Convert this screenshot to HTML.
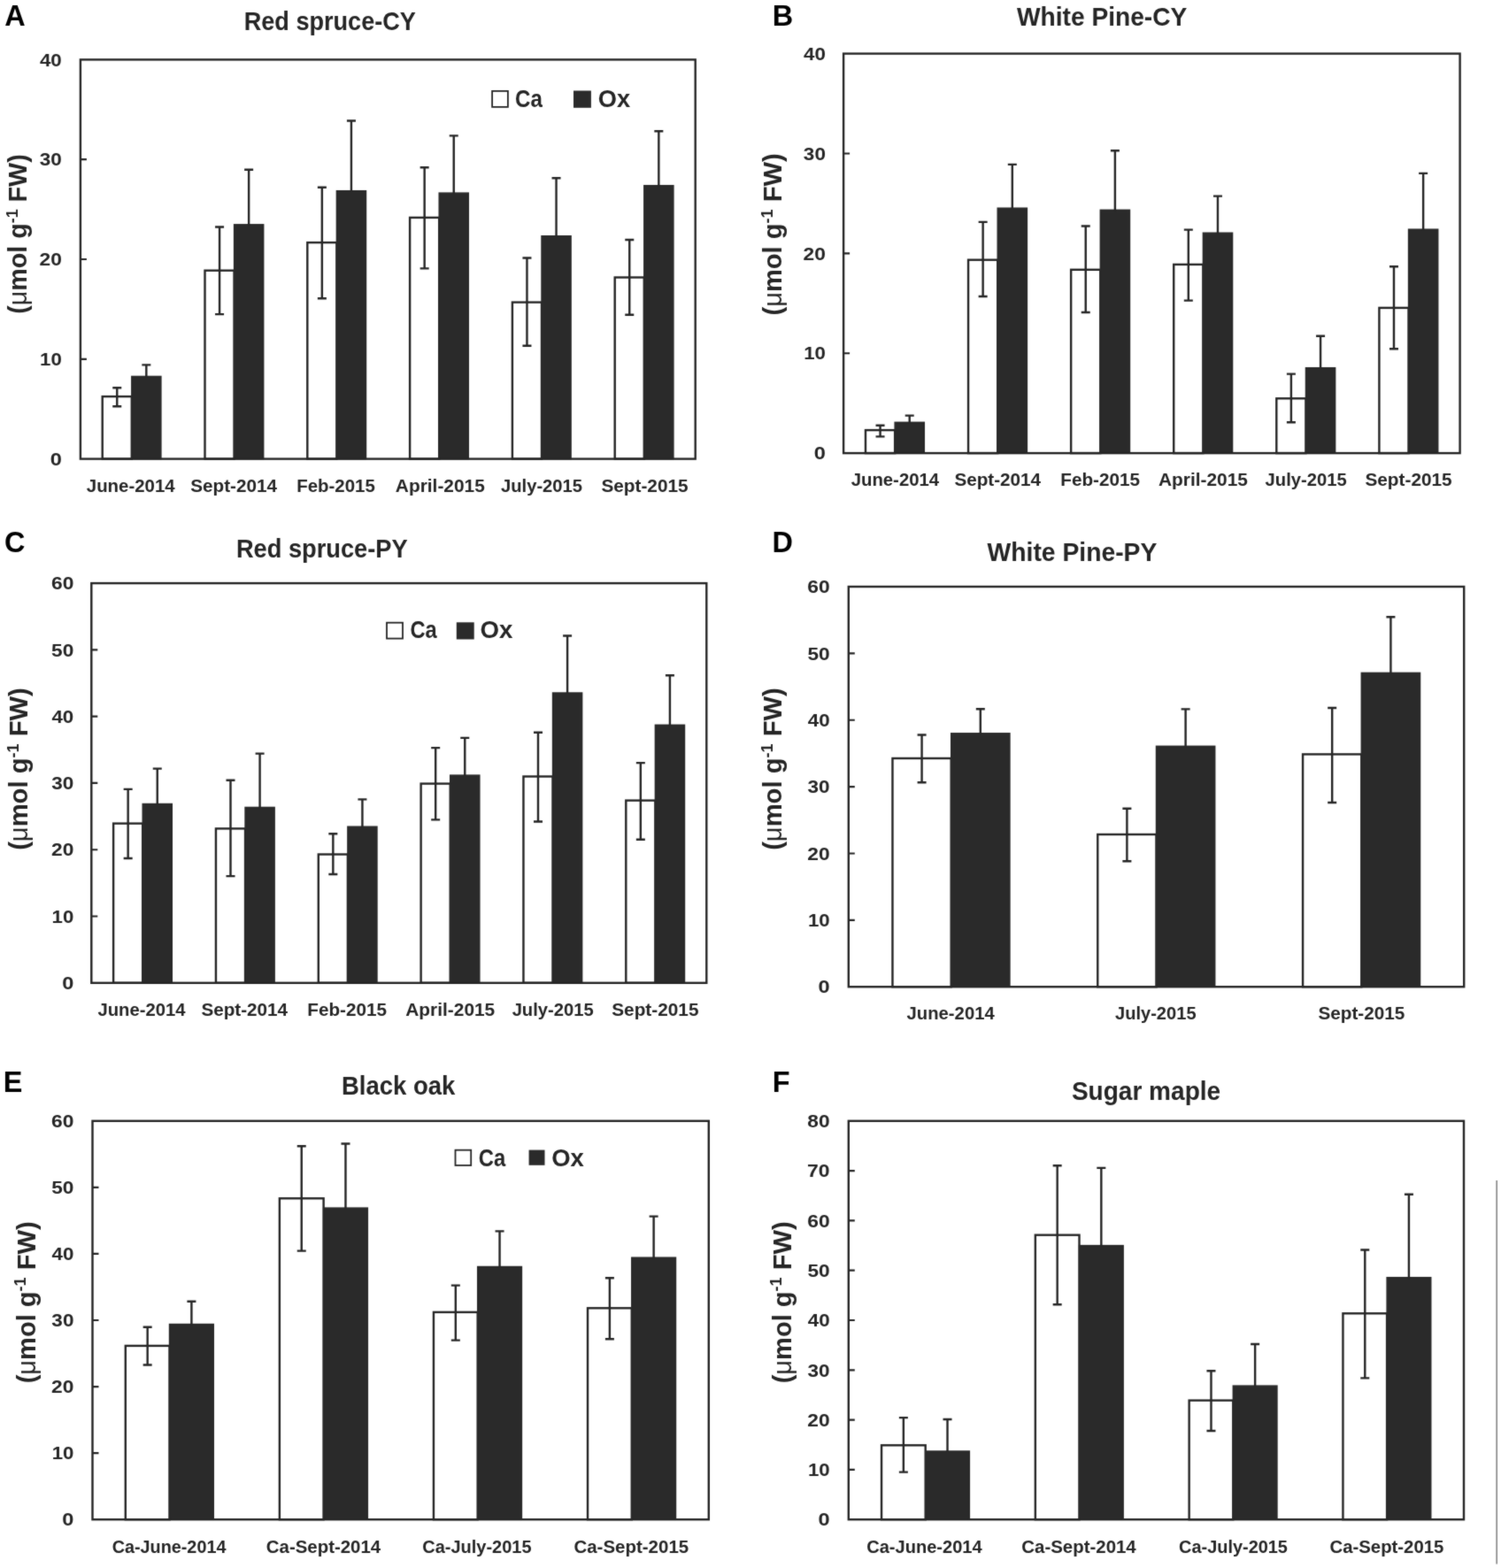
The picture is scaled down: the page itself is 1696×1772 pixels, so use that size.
<!DOCTYPE html>
<html><head><meta charset="utf-8"><title>Figure</title>
<style>html,body{margin:0;padding:0;background:#fff;width:1696px;height:1772px;overflow:hidden;}text{font-kerning:none;}</style>
</head><body>
<svg width="1696" height="1772" viewBox="0 0 1696 1772" style="display:block;font-kerning:none;font-feature-settings:'kern' 0, 'liga' 0;"><defs><filter id="soft" x="0" y="0" width="1696" height="1772" filterUnits="userSpaceOnUse" color-interpolation-filters="sRGB"><feConvolveMatrix order="3" kernelMatrix="1 2 1 2 20 2 1 2 1" edgeMode="duplicate" preserveAlpha="false"/></filter></defs><g filter="url(#soft)"><rect width="1696" height="1772" fill="#fff"/>
<rect x="115.71" y="448.10" width="33.09" height="70.50" fill="#fff" stroke="#262626" stroke-width="2.4"/>
<rect x="148.80" y="425.40" width="33.09" height="93.20" fill="#2a2a2a" stroke="#2a2a2a" stroke-width="1.44"/>
<rect x="231.51" y="305.70" width="33.09" height="212.90" fill="#fff" stroke="#262626" stroke-width="2.4"/>
<rect x="264.60" y="253.80" width="33.09" height="264.80" fill="#2a2a2a" stroke="#2a2a2a" stroke-width="1.44"/>
<rect x="347.31" y="274.10" width="33.09" height="244.50" fill="#fff" stroke="#262626" stroke-width="2.4"/>
<rect x="380.40" y="215.70" width="33.09" height="302.90" fill="#2a2a2a" stroke="#2a2a2a" stroke-width="1.44"/>
<rect x="463.11" y="245.90" width="33.09" height="272.70" fill="#fff" stroke="#262626" stroke-width="2.4"/>
<rect x="496.20" y="218.10" width="33.09" height="300.50" fill="#2a2a2a" stroke="#2a2a2a" stroke-width="1.44"/>
<rect x="578.91" y="341.60" width="33.09" height="177.00" fill="#fff" stroke="#262626" stroke-width="2.4"/>
<rect x="612.00" y="266.70" width="33.09" height="251.90" fill="#2a2a2a" stroke="#2a2a2a" stroke-width="1.44"/>
<rect x="694.71" y="313.50" width="33.09" height="205.10" fill="#fff" stroke="#262626" stroke-width="2.4"/>
<rect x="727.80" y="209.70" width="33.09" height="308.90" fill="#2a2a2a" stroke="#2a2a2a" stroke-width="1.44"/>
<path d="M132.26,438.30V459.30M127.26,438.30H137.26M127.26,459.30H137.26" stroke="#262626" stroke-width="2.4" fill="none"/>
<path d="M165.34,412.40V426.40M160.34,412.40H170.34" stroke="#262626" stroke-width="2.4" fill="none"/>
<path d="M248.06,256.50V355.10M243.06,256.50H253.06M243.06,355.10H253.06" stroke="#262626" stroke-width="2.4" fill="none"/>
<path d="M281.14,191.80V254.80M276.14,191.80H286.14" stroke="#262626" stroke-width="2.4" fill="none"/>
<path d="M363.86,211.80V337.30M358.86,211.80H368.86M358.86,337.30H368.86" stroke="#262626" stroke-width="2.4" fill="none"/>
<path d="M396.94,136.50V216.70M391.94,136.50H401.94" stroke="#262626" stroke-width="2.4" fill="none"/>
<path d="M479.66,189.30V303.40M474.66,189.30H484.66M474.66,303.40H484.66" stroke="#262626" stroke-width="2.4" fill="none"/>
<path d="M512.74,153.40V219.10M507.74,153.40H517.74" stroke="#262626" stroke-width="2.4" fill="none"/>
<path d="M595.46,291.50V390.80M590.46,291.50H600.46M590.46,390.80H600.46" stroke="#262626" stroke-width="2.4" fill="none"/>
<path d="M628.54,201.20V267.70M623.54,201.20H633.54" stroke="#262626" stroke-width="2.4" fill="none"/>
<path d="M711.26,271.00V355.80M706.26,271.00H716.26M706.26,355.80H716.26" stroke="#262626" stroke-width="2.4" fill="none"/>
<path d="M744.34,148.20V210.70M739.34,148.20H749.34" stroke="#262626" stroke-width="2.4" fill="none"/>
<rect x="90.90" y="67.40" width="694.80" height="451.20" fill="none" stroke="#262626" stroke-width="2.4"/>
<path d="M90.90,405.80H97.90M90.90,293.00H97.90M90.90,180.20H97.90" stroke="#262626" stroke-width="2.16" fill="none"/>
<text x="56.77" y="525.85" font-family='"Liberation Sans", Arial, sans-serif' font-weight="bold" font-size="20.48" fill="#252525" textLength="13.10" lengthAdjust="spacingAndGlyphs">0</text>
<text x="45.10" y="413.05" font-family='"Liberation Sans", Arial, sans-serif' font-weight="bold" font-size="20.48" fill="#252525" textLength="24.71" lengthAdjust="spacingAndGlyphs">10</text>
<text x="44.51" y="300.25" font-family='"Liberation Sans", Arial, sans-serif' font-weight="bold" font-size="20.48" fill="#252525" textLength="25.32" lengthAdjust="spacingAndGlyphs">20</text>
<text x="44.78" y="187.45" font-family='"Liberation Sans", Arial, sans-serif' font-weight="bold" font-size="20.48" fill="#252525" textLength="25.04" lengthAdjust="spacingAndGlyphs">30</text>
<text x="44.96" y="74.65" font-family='"Liberation Sans", Arial, sans-serif' font-weight="bold" font-size="20.48" fill="#252525" textLength="24.85" lengthAdjust="spacingAndGlyphs">40</text>
<text x="97.79" y="555.50" font-family='"Liberation Sans", Arial, sans-serif' font-weight="bold" font-size="20.64" fill="#252525" textLength="99.92" lengthAdjust="spacingAndGlyphs">June-2014</text>
<text x="215.30" y="555.50" font-family='"Liberation Sans", Arial, sans-serif' font-weight="bold" font-size="20.64" fill="#252525" textLength="97.71" lengthAdjust="spacingAndGlyphs">Sept-2014</text>
<text x="335.23" y="555.50" font-family='"Liberation Sans", Arial, sans-serif' font-weight="bold" font-size="20.64" fill="#252525" textLength="88.64" lengthAdjust="spacingAndGlyphs">Feb-2015</text>
<text x="446.88" y="555.50" font-family='"Liberation Sans", Arial, sans-serif' font-weight="bold" font-size="20.64" fill="#252525" textLength="100.90" lengthAdjust="spacingAndGlyphs">April-2015</text>
<text x="565.99" y="555.50" font-family='"Liberation Sans", Arial, sans-serif' font-weight="bold" font-size="20.64" fill="#252525" textLength="92.07" lengthAdjust="spacingAndGlyphs">July-2015</text>
<text x="679.40" y="555.50" font-family='"Liberation Sans", Arial, sans-serif' font-weight="bold" font-size="20.64" fill="#252525" textLength="98.18" lengthAdjust="spacingAndGlyphs">Sept-2015</text>
<text x="275.69" y="34.40" font-family='"Liberation Sans", Arial, sans-serif' font-weight="bold" font-size="29.07" fill="#252525" textLength="194.25" lengthAdjust="spacingAndGlyphs">Red spruce-CY</text>
<text x="5.39" y="28.70" font-family='"Liberation Sans", Arial, sans-serif' font-weight="bold" font-size="32.41" fill="#000" textLength="23.41" lengthAdjust="spacingAndGlyphs">A</text>
<g transform="translate(30.00,354.73) rotate(-90) scale(1.0027,1)"><text x="0.00" y="0.00" font-family='"Liberation Sans", Arial, sans-serif' font-weight="bold" font-size="28.60" fill="#252525">(</text><text x="9.52" y="0.00" font-family='"Liberation Sans", Arial, sans-serif' font-weight="normal" font-size="28.60" fill="#252525">μ</text><text x="26.00" y="0.00" font-family='"Liberation Sans", Arial, sans-serif' font-weight="bold" font-size="28.60" fill="#252525">mol g</text><text x="102.26" y="-10.30" font-family='"Liberation Sans", Arial, sans-serif' font-weight="bold" font-size="17.73" fill="#252525">-1</text><text x="125.98" y="0.00" font-family='"Liberation Sans", Arial, sans-serif' font-weight="bold" font-size="28.60" fill="#252525">FW)</text></g>
<rect x="556.10" y="102.90" width="17.80" height="18.00" fill="#fff" stroke="#262626" stroke-width="1.8"/>
<rect x="648.00" y="102.50" width="19.90" height="19.30" fill="#2a2a2a"/>
<text x="582.01" y="120.80" font-family='"Liberation Sans", Arial, sans-serif' font-weight="bold" font-size="28.49" fill="#252525" textLength="30.84" lengthAdjust="spacingAndGlyphs">Ca</text>
<text x="675.78" y="120.80" font-family='"Liberation Sans", Arial, sans-serif' font-weight="bold" font-size="28.49" fill="#252525" textLength="36.32" lengthAdjust="spacingAndGlyphs">Ox</text>
<rect x="977.98" y="486.10" width="33.17" height="26.00" fill="#fff" stroke="#262626" stroke-width="2.4"/>
<rect x="1011.14" y="477.30" width="33.17" height="34.80" fill="#2a2a2a" stroke="#2a2a2a" stroke-width="1.44"/>
<rect x="1094.06" y="293.70" width="33.17" height="218.40" fill="#fff" stroke="#262626" stroke-width="2.4"/>
<rect x="1127.22" y="235.20" width="33.17" height="276.90" fill="#2a2a2a" stroke="#2a2a2a" stroke-width="1.44"/>
<rect x="1210.14" y="304.80" width="33.17" height="207.30" fill="#fff" stroke="#262626" stroke-width="2.4"/>
<rect x="1243.31" y="237.30" width="33.17" height="274.80" fill="#2a2a2a" stroke="#2a2a2a" stroke-width="1.44"/>
<rect x="1326.22" y="298.90" width="33.17" height="213.20" fill="#fff" stroke="#262626" stroke-width="2.4"/>
<rect x="1359.39" y="263.20" width="33.17" height="248.90" fill="#2a2a2a" stroke="#2a2a2a" stroke-width="1.44"/>
<rect x="1442.31" y="450.30" width="33.17" height="61.80" fill="#fff" stroke="#262626" stroke-width="2.4"/>
<rect x="1475.47" y="415.70" width="33.17" height="96.40" fill="#2a2a2a" stroke="#2a2a2a" stroke-width="1.44"/>
<rect x="1558.39" y="347.90" width="33.17" height="164.20" fill="#fff" stroke="#262626" stroke-width="2.4"/>
<rect x="1591.56" y="259.20" width="33.17" height="252.90" fill="#2a2a2a" stroke="#2a2a2a" stroke-width="1.44"/>
<path d="M994.56,480.80V493.40M989.56,480.80H999.56M989.56,493.40H999.56" stroke="#262626" stroke-width="2.4" fill="none"/>
<path d="M1027.72,469.60V478.30M1022.72,469.60H1032.72" stroke="#262626" stroke-width="2.4" fill="none"/>
<path d="M1110.64,250.90V335.00M1105.64,250.90H1115.64M1105.64,335.00H1115.64" stroke="#262626" stroke-width="2.4" fill="none"/>
<path d="M1143.81,185.90V236.20M1138.81,185.90H1148.81" stroke="#262626" stroke-width="2.4" fill="none"/>
<path d="M1226.73,255.50V353.00M1221.73,255.50H1231.73M1221.73,353.00H1231.73" stroke="#262626" stroke-width="2.4" fill="none"/>
<path d="M1259.89,170.30V238.30M1254.89,170.30H1264.89" stroke="#262626" stroke-width="2.4" fill="none"/>
<path d="M1342.81,259.60V339.60M1337.81,259.60H1347.81M1337.81,339.60H1347.81" stroke="#262626" stroke-width="2.4" fill="none"/>
<path d="M1375.97,221.60V264.20M1370.97,221.60H1380.97" stroke="#262626" stroke-width="2.4" fill="none"/>
<path d="M1458.89,422.60V477.30M1453.89,422.60H1463.89M1453.89,477.30H1463.89" stroke="#262626" stroke-width="2.4" fill="none"/>
<path d="M1492.06,379.70V416.70M1487.06,379.70H1497.06" stroke="#262626" stroke-width="2.4" fill="none"/>
<path d="M1574.98,301.30V394.20M1569.98,301.30H1579.98M1569.98,394.20H1579.98" stroke="#262626" stroke-width="2.4" fill="none"/>
<path d="M1608.14,195.90V260.20M1603.14,195.90H1613.14" stroke="#262626" stroke-width="2.4" fill="none"/>
<rect x="953.10" y="60.60" width="696.50" height="451.50" fill="none" stroke="#262626" stroke-width="2.4"/>
<path d="M953.10,399.23H960.10M953.10,286.35H960.10M953.10,173.48H960.10" stroke="#262626" stroke-width="2.16" fill="none"/>
<text x="919.87" y="519.35" font-family='"Liberation Sans", Arial, sans-serif' font-weight="bold" font-size="20.48" fill="#252525" textLength="13.10" lengthAdjust="spacingAndGlyphs">0</text>
<text x="908.20" y="406.48" font-family='"Liberation Sans", Arial, sans-serif' font-weight="bold" font-size="20.48" fill="#252525" textLength="24.71" lengthAdjust="spacingAndGlyphs">10</text>
<text x="907.61" y="293.60" font-family='"Liberation Sans", Arial, sans-serif' font-weight="bold" font-size="20.48" fill="#252525" textLength="25.32" lengthAdjust="spacingAndGlyphs">20</text>
<text x="907.88" y="180.73" font-family='"Liberation Sans", Arial, sans-serif' font-weight="bold" font-size="20.48" fill="#252525" textLength="25.04" lengthAdjust="spacingAndGlyphs">30</text>
<text x="908.06" y="67.85" font-family='"Liberation Sans", Arial, sans-serif' font-weight="bold" font-size="20.48" fill="#252525" textLength="24.85" lengthAdjust="spacingAndGlyphs">40</text>
<text x="961.69" y="548.80" font-family='"Liberation Sans", Arial, sans-serif' font-weight="bold" font-size="20.64" fill="#252525" textLength="99.42" lengthAdjust="spacingAndGlyphs">June-2014</text>
<text x="1078.40" y="548.80" font-family='"Liberation Sans", Arial, sans-serif' font-weight="bold" font-size="20.64" fill="#252525" textLength="97.71" lengthAdjust="spacingAndGlyphs">Sept-2014</text>
<text x="1198.32" y="548.80" font-family='"Liberation Sans", Arial, sans-serif' font-weight="bold" font-size="20.64" fill="#252525" textLength="89.66" lengthAdjust="spacingAndGlyphs">Feb-2015</text>
<text x="1308.97" y="548.80" font-family='"Liberation Sans", Arial, sans-serif' font-weight="bold" font-size="20.64" fill="#252525" textLength="100.90" lengthAdjust="spacingAndGlyphs">April-2015</text>
<text x="1429.57" y="548.80" font-family='"Liberation Sans", Arial, sans-serif' font-weight="bold" font-size="20.64" fill="#252525" textLength="92.07" lengthAdjust="spacingAndGlyphs">July-2015</text>
<text x="1542.46" y="548.80" font-family='"Liberation Sans", Arial, sans-serif' font-weight="bold" font-size="20.64" fill="#252525" textLength="98.18" lengthAdjust="spacingAndGlyphs">Sept-2015</text>
<text x="1148.97" y="28.70" font-family='"Liberation Sans", Arial, sans-serif' font-weight="bold" font-size="29.07" fill="#252525" textLength="192.38" lengthAdjust="spacingAndGlyphs">White Pine-CY</text>
<text x="872.73" y="28.70" font-family='"Liberation Sans", Arial, sans-serif' font-weight="bold" font-size="32.41" fill="#000" textLength="23.41" lengthAdjust="spacingAndGlyphs">B</text>
<g transform="translate(883.00,356.45) rotate(-90) scale(1.0174,1)"><text x="0.00" y="0.00" font-family='"Liberation Sans", Arial, sans-serif' font-weight="bold" font-size="28.60" fill="#252525">(</text><text x="9.52" y="0.00" font-family='"Liberation Sans", Arial, sans-serif' font-weight="normal" font-size="28.60" fill="#252525">μ</text><text x="26.00" y="0.00" font-family='"Liberation Sans", Arial, sans-serif' font-weight="bold" font-size="28.60" fill="#252525">mol g</text><text x="102.26" y="-10.30" font-family='"Liberation Sans", Arial, sans-serif' font-weight="bold" font-size="17.73" fill="#252525">-1</text><text x="125.98" y="0.00" font-family='"Liberation Sans", Arial, sans-serif' font-weight="bold" font-size="28.60" fill="#252525">FW)</text></g>
<rect x="128.12" y="930.60" width="33.10" height="180.20" fill="#fff" stroke="#262626" stroke-width="2.4"/>
<rect x="161.22" y="908.50" width="33.10" height="202.30" fill="#2a2a2a" stroke="#2a2a2a" stroke-width="1.44"/>
<rect x="243.95" y="936.40" width="33.10" height="174.40" fill="#fff" stroke="#262626" stroke-width="2.4"/>
<rect x="277.05" y="912.40" width="33.10" height="198.40" fill="#2a2a2a" stroke="#2a2a2a" stroke-width="1.44"/>
<rect x="359.79" y="965.50" width="33.10" height="145.30" fill="#fff" stroke="#262626" stroke-width="2.4"/>
<rect x="392.88" y="934.20" width="33.10" height="176.60" fill="#2a2a2a" stroke="#2a2a2a" stroke-width="1.44"/>
<rect x="475.62" y="885.60" width="33.10" height="225.20" fill="#fff" stroke="#262626" stroke-width="2.4"/>
<rect x="508.72" y="876.10" width="33.10" height="234.70" fill="#2a2a2a" stroke="#2a2a2a" stroke-width="1.44"/>
<rect x="591.45" y="877.50" width="33.10" height="233.30" fill="#fff" stroke="#262626" stroke-width="2.4"/>
<rect x="624.55" y="783.00" width="33.10" height="327.80" fill="#2a2a2a" stroke="#2a2a2a" stroke-width="1.44"/>
<rect x="707.29" y="904.60" width="33.10" height="206.20" fill="#fff" stroke="#262626" stroke-width="2.4"/>
<rect x="740.38" y="819.30" width="33.10" height="291.50" fill="#2a2a2a" stroke="#2a2a2a" stroke-width="1.44"/>
<path d="M144.67,891.90V970.00M139.67,891.90H149.67M139.67,970.00H149.67" stroke="#262626" stroke-width="2.4" fill="none"/>
<path d="M177.76,868.60V909.50M172.76,868.60H182.76" stroke="#262626" stroke-width="2.4" fill="none"/>
<path d="M260.50,881.70V990.10M255.50,881.70H265.50M255.50,990.10H265.50" stroke="#262626" stroke-width="2.4" fill="none"/>
<path d="M293.60,851.60V913.40M288.60,851.60H298.60" stroke="#262626" stroke-width="2.4" fill="none"/>
<path d="M376.34,942.20V988.00M371.34,942.20H381.34M371.34,988.00H381.34" stroke="#262626" stroke-width="2.4" fill="none"/>
<path d="M409.43,903.40V935.20M404.43,903.40H414.43" stroke="#262626" stroke-width="2.4" fill="none"/>
<path d="M492.17,845.10V926.40M487.17,845.10H497.17M487.17,926.40H497.17" stroke="#262626" stroke-width="2.4" fill="none"/>
<path d="M525.26,833.90V877.10M520.26,833.90H530.26" stroke="#262626" stroke-width="2.4" fill="none"/>
<path d="M608.00,827.70V928.50M603.00,827.70H613.00M603.00,928.50H613.00" stroke="#262626" stroke-width="2.4" fill="none"/>
<path d="M641.10,718.50V784.00M636.10,718.50H646.10" stroke="#262626" stroke-width="2.4" fill="none"/>
<path d="M723.84,862.10V948.80M718.84,862.10H728.84M718.84,948.80H728.84" stroke="#262626" stroke-width="2.4" fill="none"/>
<path d="M756.93,763.20V820.30M751.93,763.20H761.93" stroke="#262626" stroke-width="2.4" fill="none"/>
<rect x="103.30" y="659.10" width="695.00" height="451.70" fill="none" stroke="#262626" stroke-width="2.4"/>
<path d="M103.30,1035.52H110.30M103.30,960.23H110.30M103.30,884.95H110.30M103.30,809.67H110.30M103.30,734.38H110.30" stroke="#262626" stroke-width="2.16" fill="none"/>
<text x="70.27" y="1118.05" font-family='"Liberation Sans", Arial, sans-serif' font-weight="bold" font-size="20.48" fill="#252525" textLength="13.10" lengthAdjust="spacingAndGlyphs">0</text>
<text x="58.60" y="1042.77" font-family='"Liberation Sans", Arial, sans-serif' font-weight="bold" font-size="20.48" fill="#252525" textLength="24.71" lengthAdjust="spacingAndGlyphs">10</text>
<text x="58.01" y="967.48" font-family='"Liberation Sans", Arial, sans-serif' font-weight="bold" font-size="20.48" fill="#252525" textLength="25.32" lengthAdjust="spacingAndGlyphs">20</text>
<text x="58.28" y="892.20" font-family='"Liberation Sans", Arial, sans-serif' font-weight="bold" font-size="20.48" fill="#252525" textLength="25.04" lengthAdjust="spacingAndGlyphs">30</text>
<text x="58.46" y="816.92" font-family='"Liberation Sans", Arial, sans-serif' font-weight="bold" font-size="20.48" fill="#252525" textLength="24.85" lengthAdjust="spacingAndGlyphs">40</text>
<text x="58.10" y="741.63" font-family='"Liberation Sans", Arial, sans-serif' font-weight="bold" font-size="20.48" fill="#252525" textLength="25.23" lengthAdjust="spacingAndGlyphs">50</text>
<text x="57.96" y="666.35" font-family='"Liberation Sans", Arial, sans-serif' font-weight="bold" font-size="20.48" fill="#252525" textLength="25.37" lengthAdjust="spacingAndGlyphs">60</text>
<text x="110.39" y="1147.90" font-family='"Liberation Sans", Arial, sans-serif' font-weight="bold" font-size="20.64" fill="#252525" textLength="99.12" lengthAdjust="spacingAndGlyphs">June-2014</text>
<text x="227.40" y="1147.90" font-family='"Liberation Sans", Arial, sans-serif' font-weight="bold" font-size="20.64" fill="#252525" textLength="97.71" lengthAdjust="spacingAndGlyphs">Sept-2014</text>
<text x="347.32" y="1147.90" font-family='"Liberation Sans", Arial, sans-serif' font-weight="bold" font-size="20.64" fill="#252525" textLength="89.66" lengthAdjust="spacingAndGlyphs">Feb-2015</text>
<text x="458.30" y="1147.90" font-family='"Liberation Sans", Arial, sans-serif' font-weight="bold" font-size="20.64" fill="#252525" textLength="100.90" lengthAdjust="spacingAndGlyphs">April-2015</text>
<text x="578.64" y="1147.90" font-family='"Liberation Sans", Arial, sans-serif' font-weight="bold" font-size="20.64" fill="#252525" textLength="92.07" lengthAdjust="spacingAndGlyphs">July-2015</text>
<text x="691.28" y="1147.90" font-family='"Liberation Sans", Arial, sans-serif' font-weight="bold" font-size="20.64" fill="#252525" textLength="98.18" lengthAdjust="spacingAndGlyphs">Sept-2015</text>
<text x="266.88" y="629.90" font-family='"Liberation Sans", Arial, sans-serif' font-weight="bold" font-size="29.07" fill="#252525" textLength="193.76" lengthAdjust="spacingAndGlyphs">Red spruce-PY</text>
<text x="5.07" y="623.50" font-family='"Liberation Sans", Arial, sans-serif' font-weight="bold" font-size="32.41" fill="#000" textLength="23.41" lengthAdjust="spacingAndGlyphs">C</text>
<g transform="translate(31.00,960.85) rotate(-90) scale(1.0208,1)"><text x="0.00" y="0.00" font-family='"Liberation Sans", Arial, sans-serif' font-weight="bold" font-size="28.60" fill="#252525">(</text><text x="9.52" y="0.00" font-family='"Liberation Sans", Arial, sans-serif' font-weight="normal" font-size="28.60" fill="#252525">μ</text><text x="26.00" y="0.00" font-family='"Liberation Sans", Arial, sans-serif' font-weight="bold" font-size="28.60" fill="#252525">mol g</text><text x="102.26" y="-10.30" font-family='"Liberation Sans", Arial, sans-serif' font-weight="bold" font-size="17.73" fill="#252525">-1</text><text x="125.98" y="0.00" font-family='"Liberation Sans", Arial, sans-serif' font-weight="bold" font-size="28.60" fill="#252525">FW)</text></g>
<rect x="437.00" y="703.70" width="18.00" height="17.90" fill="#fff" stroke="#262626" stroke-width="1.8"/>
<rect x="515.80" y="703.30" width="19.90" height="19.20" fill="#2a2a2a"/>
<text x="463.43" y="721.40" font-family='"Liberation Sans", Arial, sans-serif' font-weight="bold" font-size="28.49" fill="#252525" textLength="30.22" lengthAdjust="spacingAndGlyphs">Ca</text>
<text x="542.46" y="721.40" font-family='"Liberation Sans", Arial, sans-serif' font-weight="bold" font-size="28.49" fill="#252525" textLength="36.94" lengthAdjust="spacingAndGlyphs">Ox</text>
<rect x="1008.47" y="857.00" width="66.23" height="258.20" fill="#fff" stroke="#262626" stroke-width="2.4"/>
<rect x="1074.70" y="828.75" width="66.23" height="286.45" fill="#2a2a2a" stroke="#2a2a2a" stroke-width="1.44"/>
<rect x="1240.27" y="943.00" width="66.23" height="172.20" fill="#fff" stroke="#262626" stroke-width="2.4"/>
<rect x="1306.50" y="843.30" width="66.23" height="271.90" fill="#2a2a2a" stroke="#2a2a2a" stroke-width="1.44"/>
<rect x="1472.07" y="852.40" width="66.23" height="262.80" fill="#fff" stroke="#262626" stroke-width="2.4"/>
<rect x="1538.30" y="760.40" width="66.23" height="354.80" fill="#2a2a2a" stroke="#2a2a2a" stroke-width="1.44"/>
<path d="M1041.59,830.50V884.25M1036.59,830.50H1046.59M1036.59,884.25H1046.59" stroke="#262626" stroke-width="2.4" fill="none"/>
<path d="M1107.81,801.25V829.75M1102.81,801.25H1112.81" stroke="#262626" stroke-width="2.4" fill="none"/>
<path d="M1273.39,913.80V973.20M1268.39,913.80H1278.39M1268.39,973.20H1278.39" stroke="#262626" stroke-width="2.4" fill="none"/>
<path d="M1339.61,801.40V844.30M1334.61,801.40H1344.61" stroke="#262626" stroke-width="2.4" fill="none"/>
<path d="M1505.19,800.00V907.00M1500.19,800.00H1510.19M1500.19,907.00H1510.19" stroke="#262626" stroke-width="2.4" fill="none"/>
<path d="M1571.41,697.30V761.40M1566.41,697.30H1576.41" stroke="#262626" stroke-width="2.4" fill="none"/>
<rect x="958.80" y="663.00" width="695.40" height="452.20" fill="none" stroke="#262626" stroke-width="2.4"/>
<path d="M958.80,1039.83H965.80M958.80,964.47H965.80M958.80,889.10H965.80M958.80,813.73H965.80M958.80,738.37H965.80" stroke="#262626" stroke-width="2.16" fill="none"/>
<text x="924.57" y="1122.45" font-family='"Liberation Sans", Arial, sans-serif' font-weight="bold" font-size="20.48" fill="#252525" textLength="13.10" lengthAdjust="spacingAndGlyphs">0</text>
<text x="912.90" y="1047.08" font-family='"Liberation Sans", Arial, sans-serif' font-weight="bold" font-size="20.48" fill="#252525" textLength="24.71" lengthAdjust="spacingAndGlyphs">10</text>
<text x="912.31" y="971.72" font-family='"Liberation Sans", Arial, sans-serif' font-weight="bold" font-size="20.48" fill="#252525" textLength="25.32" lengthAdjust="spacingAndGlyphs">20</text>
<text x="912.58" y="896.35" font-family='"Liberation Sans", Arial, sans-serif' font-weight="bold" font-size="20.48" fill="#252525" textLength="25.04" lengthAdjust="spacingAndGlyphs">30</text>
<text x="912.76" y="820.98" font-family='"Liberation Sans", Arial, sans-serif' font-weight="bold" font-size="20.48" fill="#252525" textLength="24.85" lengthAdjust="spacingAndGlyphs">40</text>
<text x="912.40" y="745.62" font-family='"Liberation Sans", Arial, sans-serif' font-weight="bold" font-size="20.48" fill="#252525" textLength="25.23" lengthAdjust="spacingAndGlyphs">50</text>
<text x="912.26" y="670.25" font-family='"Liberation Sans", Arial, sans-serif' font-weight="bold" font-size="20.48" fill="#252525" textLength="25.37" lengthAdjust="spacingAndGlyphs">60</text>
<text x="1024.59" y="1152.20" font-family='"Liberation Sans", Arial, sans-serif' font-weight="bold" font-size="20.64" fill="#252525" textLength="99.12" lengthAdjust="spacingAndGlyphs">June-2014</text>
<text x="1260.00" y="1152.20" font-family='"Liberation Sans", Arial, sans-serif' font-weight="bold" font-size="20.64" fill="#252525" textLength="91.56" lengthAdjust="spacingAndGlyphs">July-2015</text>
<text x="1489.40" y="1152.20" font-family='"Liberation Sans", Arial, sans-serif' font-weight="bold" font-size="20.64" fill="#252525" textLength="97.97" lengthAdjust="spacingAndGlyphs">Sept-2015</text>
<text x="1115.57" y="634.00" font-family='"Liberation Sans", Arial, sans-serif' font-weight="bold" font-size="29.07" fill="#252525" textLength="191.78" lengthAdjust="spacingAndGlyphs">White Pine-PY</text>
<text x="872.53" y="623.50" font-family='"Liberation Sans", Arial, sans-serif' font-weight="bold" font-size="32.41" fill="#000" textLength="23.41" lengthAdjust="spacingAndGlyphs">D</text>
<g transform="translate(883.00,960.85) rotate(-90) scale(1.0208,1)"><text x="0.00" y="0.00" font-family='"Liberation Sans", Arial, sans-serif' font-weight="bold" font-size="28.60" fill="#252525">(</text><text x="9.52" y="0.00" font-family='"Liberation Sans", Arial, sans-serif' font-weight="normal" font-size="28.60" fill="#252525">μ</text><text x="26.00" y="0.00" font-family='"Liberation Sans", Arial, sans-serif' font-weight="bold" font-size="28.60" fill="#252525">mol g</text><text x="102.26" y="-10.30" font-family='"Liberation Sans", Arial, sans-serif' font-weight="bold" font-size="17.73" fill="#252525">-1</text><text x="125.98" y="0.00" font-family='"Liberation Sans", Arial, sans-serif' font-weight="bold" font-size="28.60" fill="#252525">FW)</text></g>
<rect x="141.80" y="1520.90" width="49.74" height="196.30" fill="#fff" stroke="#262626" stroke-width="2.4"/>
<rect x="191.54" y="1496.50" width="49.74" height="220.70" fill="#2a2a2a" stroke="#2a2a2a" stroke-width="1.44"/>
<rect x="315.88" y="1354.30" width="49.74" height="362.90" fill="#fff" stroke="#262626" stroke-width="2.4"/>
<rect x="365.61" y="1365.10" width="49.74" height="352.10" fill="#2a2a2a" stroke="#2a2a2a" stroke-width="1.44"/>
<rect x="489.95" y="1482.90" width="49.74" height="234.30" fill="#fff" stroke="#262626" stroke-width="2.4"/>
<rect x="539.69" y="1431.50" width="49.74" height="285.70" fill="#2a2a2a" stroke="#2a2a2a" stroke-width="1.44"/>
<rect x="664.03" y="1478.30" width="49.74" height="238.90" fill="#fff" stroke="#262626" stroke-width="2.4"/>
<rect x="713.76" y="1421.20" width="49.74" height="296.00" fill="#2a2a2a" stroke="#2a2a2a" stroke-width="1.44"/>
<path d="M166.67,1499.70V1542.50M161.67,1499.70H171.67M161.67,1542.50H171.67" stroke="#262626" stroke-width="2.4" fill="none"/>
<path d="M216.41,1470.70V1497.50M211.41,1470.70H221.41" stroke="#262626" stroke-width="2.4" fill="none"/>
<path d="M340.74,1295.20V1413.60M335.74,1295.20H345.74M335.74,1413.60H345.74" stroke="#262626" stroke-width="2.4" fill="none"/>
<path d="M390.48,1292.50V1366.10M385.48,1292.50H395.48" stroke="#262626" stroke-width="2.4" fill="none"/>
<path d="M514.82,1452.60V1514.60M509.82,1452.60H519.82M509.82,1514.60H519.82" stroke="#262626" stroke-width="2.4" fill="none"/>
<path d="M564.56,1391.40V1432.50M559.56,1391.40H569.56" stroke="#262626" stroke-width="2.4" fill="none"/>
<path d="M688.89,1444.20V1513.30M683.89,1444.20H693.89M683.89,1513.30H693.89" stroke="#262626" stroke-width="2.4" fill="none"/>
<path d="M738.63,1374.60V1422.20M733.63,1374.60H743.63" stroke="#262626" stroke-width="2.4" fill="none"/>
<rect x="104.50" y="1266.80" width="696.30" height="450.40" fill="none" stroke="#262626" stroke-width="2.4"/>
<path d="M104.50,1642.13H111.50M104.50,1567.07H111.50M104.50,1492.00H111.50M104.50,1416.93H111.50M104.50,1341.87H111.50" stroke="#262626" stroke-width="2.16" fill="none"/>
<text x="70.37" y="1724.45" font-family='"Liberation Sans", Arial, sans-serif' font-weight="bold" font-size="20.48" fill="#252525" textLength="13.10" lengthAdjust="spacingAndGlyphs">0</text>
<text x="58.70" y="1649.38" font-family='"Liberation Sans", Arial, sans-serif' font-weight="bold" font-size="20.48" fill="#252525" textLength="24.71" lengthAdjust="spacingAndGlyphs">10</text>
<text x="58.11" y="1574.32" font-family='"Liberation Sans", Arial, sans-serif' font-weight="bold" font-size="20.48" fill="#252525" textLength="25.32" lengthAdjust="spacingAndGlyphs">20</text>
<text x="58.38" y="1499.25" font-family='"Liberation Sans", Arial, sans-serif' font-weight="bold" font-size="20.48" fill="#252525" textLength="25.04" lengthAdjust="spacingAndGlyphs">30</text>
<text x="58.56" y="1424.18" font-family='"Liberation Sans", Arial, sans-serif' font-weight="bold" font-size="20.48" fill="#252525" textLength="24.85" lengthAdjust="spacingAndGlyphs">40</text>
<text x="58.20" y="1349.12" font-family='"Liberation Sans", Arial, sans-serif' font-weight="bold" font-size="20.48" fill="#252525" textLength="25.23" lengthAdjust="spacingAndGlyphs">50</text>
<text x="58.06" y="1274.05" font-family='"Liberation Sans", Arial, sans-serif' font-weight="bold" font-size="20.48" fill="#252525" textLength="25.37" lengthAdjust="spacingAndGlyphs">60</text>
<text x="126.69" y="1755.20" font-family='"Liberation Sans", Arial, sans-serif' font-weight="bold" font-size="20.64" fill="#252525" textLength="128.72" lengthAdjust="spacingAndGlyphs">Ca-June-2014</text>
<text x="300.86" y="1755.20" font-family='"Liberation Sans", Arial, sans-serif' font-weight="bold" font-size="20.64" fill="#252525" textLength="129.25" lengthAdjust="spacingAndGlyphs">Ca-Sept-2014</text>
<text x="477.28" y="1755.20" font-family='"Liberation Sans", Arial, sans-serif' font-weight="bold" font-size="20.64" fill="#252525" textLength="123.28" lengthAdjust="spacingAndGlyphs">Ca-July-2015</text>
<text x="648.46" y="1755.20" font-family='"Liberation Sans", Arial, sans-serif' font-weight="bold" font-size="20.64" fill="#252525" textLength="129.71" lengthAdjust="spacingAndGlyphs">Ca-Sept-2015</text>
<text x="385.96" y="1236.60" font-family='"Liberation Sans", Arial, sans-serif' font-weight="bold" font-size="29.07" fill="#252525" textLength="128.31" lengthAdjust="spacingAndGlyphs">Black oak</text>
<text x="3.63" y="1233.60" font-family='"Liberation Sans", Arial, sans-serif' font-weight="bold" font-size="32.41" fill="#000" textLength="21.62" lengthAdjust="spacingAndGlyphs">E</text>
<g transform="translate(39.50,1563.35) rotate(-90) scale(1.0168,1)"><text x="0.00" y="0.00" font-family='"Liberation Sans", Arial, sans-serif' font-weight="bold" font-size="28.60" fill="#252525">(</text><text x="9.52" y="0.00" font-family='"Liberation Sans", Arial, sans-serif' font-weight="normal" font-size="28.60" fill="#252525">μ</text><text x="26.00" y="0.00" font-family='"Liberation Sans", Arial, sans-serif' font-weight="bold" font-size="28.60" fill="#252525">mol g</text><text x="102.26" y="-10.30" font-family='"Liberation Sans", Arial, sans-serif' font-weight="bold" font-size="17.73" fill="#252525">-1</text><text x="125.98" y="0.00" font-family='"Liberation Sans", Arial, sans-serif' font-weight="bold" font-size="28.60" fill="#252525">FW)</text></g>
<rect x="514.50" y="1299.70" width="17.70" height="17.30" fill="#fff" stroke="#262626" stroke-width="1.8"/>
<rect x="597.60" y="1299.60" width="17.90" height="17.20" fill="#2a2a2a"/>
<text x="540.72" y="1318.40" font-family='"Liberation Sans", Arial, sans-serif' font-weight="bold" font-size="28.49" fill="#252525" textLength="30.43" lengthAdjust="spacingAndGlyphs">Ca</text>
<text x="623.27" y="1318.40" font-family='"Liberation Sans", Arial, sans-serif' font-weight="bold" font-size="28.49" fill="#252525" textLength="36.63" lengthAdjust="spacingAndGlyphs">Ox</text>
<rect x="996.04" y="1633.30" width="49.66" height="83.90" fill="#fff" stroke="#262626" stroke-width="2.4"/>
<rect x="1045.70" y="1640.00" width="49.66" height="77.20" fill="#2a2a2a" stroke="#2a2a2a" stroke-width="1.44"/>
<rect x="1169.84" y="1395.70" width="49.66" height="321.50" fill="#fff" stroke="#262626" stroke-width="2.4"/>
<rect x="1219.50" y="1407.60" width="49.66" height="309.60" fill="#2a2a2a" stroke="#2a2a2a" stroke-width="1.44"/>
<rect x="1343.64" y="1582.60" width="49.66" height="134.60" fill="#fff" stroke="#262626" stroke-width="2.4"/>
<rect x="1393.30" y="1566.10" width="49.66" height="151.10" fill="#2a2a2a" stroke="#2a2a2a" stroke-width="1.44"/>
<rect x="1517.44" y="1484.30" width="49.66" height="232.90" fill="#fff" stroke="#262626" stroke-width="2.4"/>
<rect x="1567.10" y="1443.70" width="49.66" height="273.50" fill="#2a2a2a" stroke="#2a2a2a" stroke-width="1.44"/>
<path d="M1020.87,1602.10V1663.60M1015.87,1602.10H1025.87M1015.87,1663.60H1025.87" stroke="#262626" stroke-width="2.4" fill="none"/>
<path d="M1070.53,1604.00V1641.00M1065.53,1604.00H1075.53" stroke="#262626" stroke-width="2.4" fill="none"/>
<path d="M1194.67,1317.20V1474.30M1189.67,1317.20H1199.67M1189.67,1474.30H1199.67" stroke="#262626" stroke-width="2.4" fill="none"/>
<path d="M1244.33,1319.90V1408.60M1239.33,1319.90H1249.33" stroke="#262626" stroke-width="2.4" fill="none"/>
<path d="M1368.47,1549.30V1617.00M1363.47,1549.30H1373.47M1363.47,1617.00H1373.47" stroke="#262626" stroke-width="2.4" fill="none"/>
<path d="M1418.13,1519.00V1567.10M1413.13,1519.00H1423.13" stroke="#262626" stroke-width="2.4" fill="none"/>
<path d="M1542.27,1412.50V1557.40M1537.27,1412.50H1547.27M1537.27,1557.40H1547.27" stroke="#262626" stroke-width="2.4" fill="none"/>
<path d="M1591.93,1349.70V1444.70M1586.93,1349.70H1596.93" stroke="#262626" stroke-width="2.4" fill="none"/>
<rect x="958.80" y="1266.80" width="695.20" height="450.40" fill="none" stroke="#262626" stroke-width="2.4"/>
<path d="M958.80,1660.90H965.80M958.80,1604.60H965.80M958.80,1548.30H965.80M958.80,1492.00H965.80M958.80,1435.70H965.80M958.80,1379.40H965.80M958.80,1323.10H965.80" stroke="#262626" stroke-width="2.16" fill="none"/>
<text x="924.57" y="1724.45" font-family='"Liberation Sans", Arial, sans-serif' font-weight="bold" font-size="20.48" fill="#252525" textLength="13.10" lengthAdjust="spacingAndGlyphs">0</text>
<text x="912.90" y="1668.15" font-family='"Liberation Sans", Arial, sans-serif' font-weight="bold" font-size="20.48" fill="#252525" textLength="24.71" lengthAdjust="spacingAndGlyphs">10</text>
<text x="912.31" y="1611.85" font-family='"Liberation Sans", Arial, sans-serif' font-weight="bold" font-size="20.48" fill="#252525" textLength="25.32" lengthAdjust="spacingAndGlyphs">20</text>
<text x="912.58" y="1555.55" font-family='"Liberation Sans", Arial, sans-serif' font-weight="bold" font-size="20.48" fill="#252525" textLength="25.04" lengthAdjust="spacingAndGlyphs">30</text>
<text x="912.76" y="1499.25" font-family='"Liberation Sans", Arial, sans-serif' font-weight="bold" font-size="20.48" fill="#252525" textLength="24.85" lengthAdjust="spacingAndGlyphs">40</text>
<text x="912.40" y="1442.95" font-family='"Liberation Sans", Arial, sans-serif' font-weight="bold" font-size="20.48" fill="#252525" textLength="25.23" lengthAdjust="spacingAndGlyphs">50</text>
<text x="912.26" y="1386.65" font-family='"Liberation Sans", Arial, sans-serif' font-weight="bold" font-size="20.48" fill="#252525" textLength="25.37" lengthAdjust="spacingAndGlyphs">60</text>
<text x="912.11" y="1330.35" font-family='"Liberation Sans", Arial, sans-serif' font-weight="bold" font-size="20.48" fill="#252525" textLength="25.53" lengthAdjust="spacingAndGlyphs">70</text>
<text x="912.38" y="1274.05" font-family='"Liberation Sans", Arial, sans-serif' font-weight="bold" font-size="20.48" fill="#252525" textLength="25.25" lengthAdjust="spacingAndGlyphs">80</text>
<text x="979.18" y="1755.20" font-family='"Liberation Sans", Arial, sans-serif' font-weight="bold" font-size="20.64" fill="#252525" textLength="130.43" lengthAdjust="spacingAndGlyphs">Ca-June-2014</text>
<text x="1154.36" y="1755.20" font-family='"Liberation Sans", Arial, sans-serif' font-weight="bold" font-size="20.64" fill="#252525" textLength="129.35" lengthAdjust="spacingAndGlyphs">Ca-Sept-2014</text>
<text x="1332.08" y="1755.20" font-family='"Liberation Sans", Arial, sans-serif' font-weight="bold" font-size="20.64" fill="#252525" textLength="122.87" lengthAdjust="spacingAndGlyphs">Ca-July-2015</text>
<text x="1502.47" y="1755.20" font-family='"Liberation Sans", Arial, sans-serif' font-weight="bold" font-size="20.64" fill="#252525" textLength="128.90" lengthAdjust="spacingAndGlyphs">Ca-Sept-2015</text>
<text x="1210.89" y="1242.80" font-family='"Liberation Sans", Arial, sans-serif' font-weight="bold" font-size="29.07" fill="#252525" textLength="168.27" lengthAdjust="spacingAndGlyphs">Sugar maple</text>
<text x="872.83" y="1233.60" font-family='"Liberation Sans", Arial, sans-serif' font-weight="bold" font-size="32.41" fill="#000" textLength="19.80" lengthAdjust="spacingAndGlyphs">F</text>
<g transform="translate(893.50,1563.35) rotate(-90) scale(1.0168,1)"><text x="0.00" y="0.00" font-family='"Liberation Sans", Arial, sans-serif' font-weight="bold" font-size="28.60" fill="#252525">(</text><text x="9.52" y="0.00" font-family='"Liberation Sans", Arial, sans-serif' font-weight="normal" font-size="28.60" fill="#252525">μ</text><text x="26.00" y="0.00" font-family='"Liberation Sans", Arial, sans-serif' font-weight="bold" font-size="28.60" fill="#252525">mol g</text><text x="102.26" y="-10.30" font-family='"Liberation Sans", Arial, sans-serif' font-weight="bold" font-size="17.73" fill="#252525">-1</text><text x="125.98" y="0.00" font-family='"Liberation Sans", Arial, sans-serif' font-weight="bold" font-size="28.60" fill="#252525">FW)</text></g>
<line x1="1691.2" y1="1334" x2="1691.2" y2="1767.5" stroke="#8a8a8a" stroke-width="1.7"/>
</g></svg>
</body></html>
